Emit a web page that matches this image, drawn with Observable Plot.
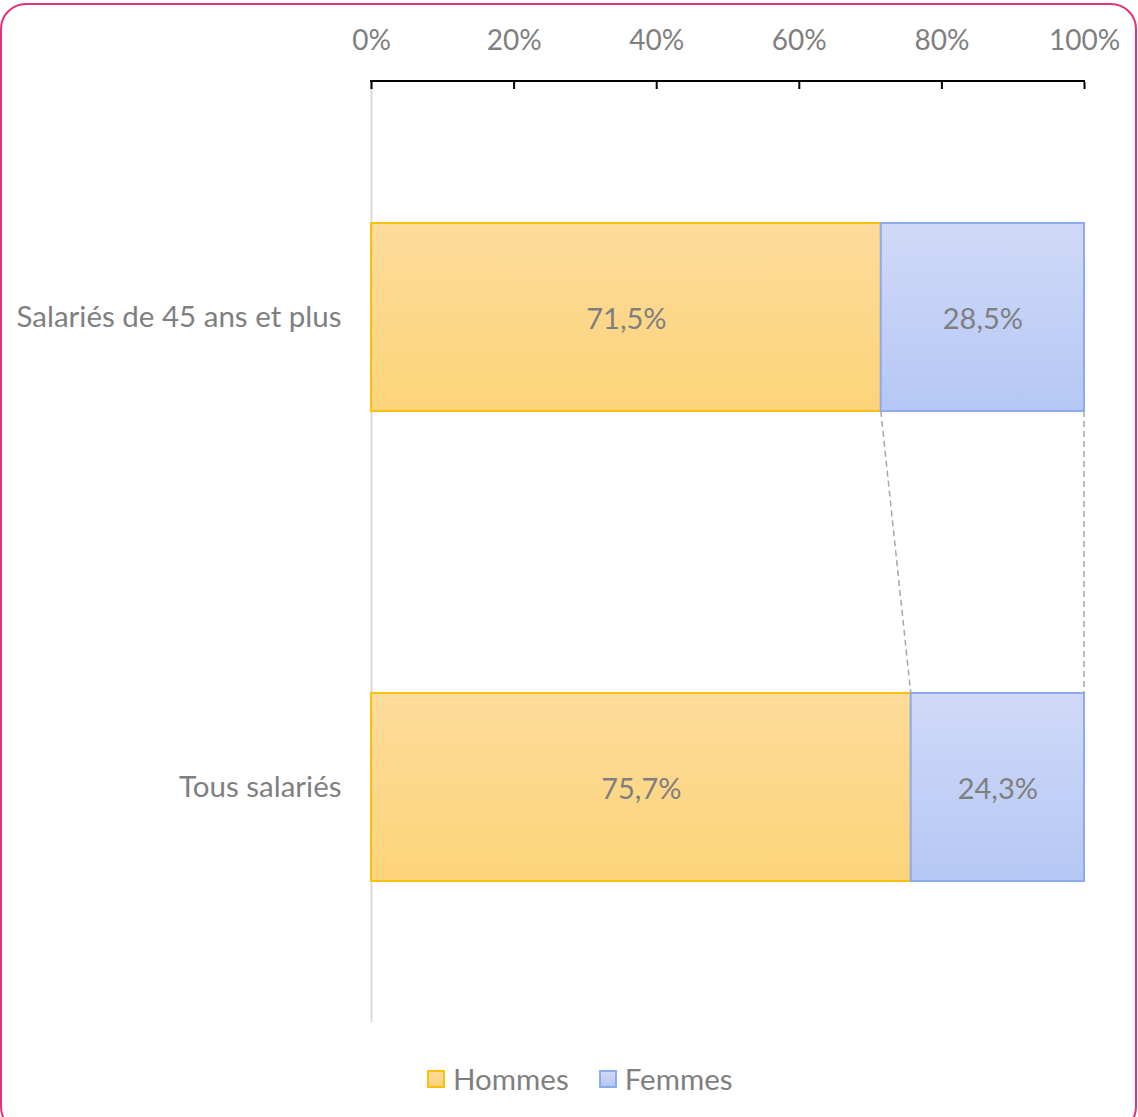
<!DOCTYPE html>
<html>
<head>
<meta charset="utf-8">
<script src="https://cdn.jsdelivr.net/npm/d3@7"></script>
<script src="https://cdn.jsdelivr.net/npm/@observablehq/plot@0.6"></script>
<style>
  html, body { margin: 0; padding: 0; background: #fff; }
  body { width: 1138px; height: 1117px; position: relative; overflow: hidden; font-family: Lato, "Open Sans", sans-serif; }
  #frame { position: absolute; left: 0px; top: 3px; width: 1137px; height: 1130px; box-sizing: border-box;
           border: 2px solid #e5307a; border-radius: 26px; }
  #chart { position: absolute; left: 0; top: 0; }
  #legend { position: absolute; top: 1061px; left: 427px; display: flex; align-items: center; font-size: 29.5px; color: #7f7f7f; }
  .sw { width: 14px; height: 14px; border: 2px solid; margin-right: 8px; }
  .item { display: flex; align-items: center; margin-right: 30px; }
</style>
</head>
<body>
<div id="frame"></div>
<div id="chart"></div>
<div id="legend"></div>
<script>
const categories = ["Salariés de 45 ans et plus", "Tous salariés"];
const hommes = [71.5, 75.7];
const femmes = [28.5, 24.3];
const series = ["Hommes", "Femmes"];
const xTicks = [0, 20, 40, 60, 80, 100];

const fills = { Hommes: "url(#gradH)", Femmes: "url(#gradF)" };
const strokes = { Hommes: "#fbbf12", Femmes: "#8eaaee" };

const rows = [];
categories.forEach((c, i) => {
  rows.push({ cat: c, series: "Hommes", value: hommes[i], x1: 0, x2: hommes[i] });
  rows.push({ cat: c, series: "Femmes", value: femmes[i], x1: hommes[i], x2: hommes[i] + femmes[i] });
});
const fmt = v => v.toFixed(1).replace(".", ",") + "%";

// dashed connectors between the two bars, at each segment boundary
function connectors(index, scales) {
  const x = scales.x, y = scales.y;
  const bw = y.bandwidth();
  const g = d3.create("svg:g");
  const bounds = [[hommes[0], hommes[1]], [hommes[0] + femmes[0], hommes[1] + femmes[1]]];
  for (const [a, b] of bounds) {
    g.append("line")
      .attr("x1", x(a)).attr("y1", y(categories[0]) + bw)
      .attr("x2", x(b)).attr("y2", y(categories[1]))
      .attr("stroke", "#a6a6a6").attr("stroke-width", 1.5).attr("stroke-dasharray", "6,4");
  }
  return g.node();
}

// top axis domain line
function topLine(index, scales, values, dims) {
  const x = scales.x;
  return d3.create("svg:line")
    .attr("x1", x(xTicks[0]) - 1).attr("x2", x(xTicks[xTicks.length - 1]) + 1)
    .attr("y1", dims.marginTop).attr("y2", dims.marginTop)
    .attr("stroke", "#000").attr("stroke-width", 2).node();
}

const chart = Plot.plot({
  width: 1138,
  height: 1040,
  marginTop: 81,
  marginLeft: 371,
  marginRight: 54,
  marginBottom: 18,
  style: { fontFamily: "Lato, 'Open Sans', sans-serif", color: "#7f7f7f", background: "transparent" },
  x: { domain: [0, 100], axis: null },
  y: { domain: categories, paddingInner: 0.6, paddingOuter: 0.3, axis: null },
  marks: [
    Plot.ruleX([0], { stroke: "#d9d9d9", strokeWidth: 2 }),
    Plot.barX(rows.filter(d => d.series === "Hommes"), { y: "cat", x1: "x1", x2: "x2", fill: fills.Hommes, stroke: strokes.Hommes, strokeWidth: 2 }),
    Plot.barX(rows.filter(d => d.series === "Femmes"), { y: "cat", x1: "x1", x2: "x2", fill: fills.Femmes, stroke: strokes.Femmes, strokeWidth: 2 }),
    Plot.text(rows, { y: "cat", x: d => (d.x1 + d.x2) / 2, text: d => fmt(d.value), fill: "#7f7f7f", fontSize: 29, dy: 2 }),
    connectors,
    Plot.axisX({ anchor: "top", ticks: xTicks, tickFormat: d => d + "%", tickSize: -7, tickPadding: 39, stroke: "#000", strokeWidth: 2, fill: "#7f7f7f", fontSize: 28 }),
    topLine,
    Plot.axisY({ tickSize: 0, tickPadding: 30, fill: "#7f7f7f", fontSize: 29.5, label: null })
  ]
});

// gradient definitions
const defs = d3.select(chart).insert("defs", ":first-child");
const gH = defs.append("linearGradient").attr("id", "gradH").attr("x1", 0).attr("y1", 0).attr("x2", 0).attr("y2", 1);
gH.append("stop").attr("offset", "0%").attr("stop-color", "#fddb9a");
gH.append("stop").attr("offset", "100%").attr("stop-color", "#fdd47a");
const gF = defs.append("linearGradient").attr("id", "gradF").attr("x1", 0).attr("y1", 0).attr("x2", 0).attr("y2", 1);
gF.append("stop").attr("offset", "0%").attr("stop-color", "#d0daf7");
gF.append("stop").attr("offset", "100%").attr("stop-color", "#b5c7f5");

document.getElementById("chart").appendChild(chart);

const legend = d3.select("#legend");
const legFill = { Hommes: "linear-gradient(#fddb9a,#fdd47a)", Femmes: "linear-gradient(#d0daf7,#b5c7f5)" };
series.forEach(s => {
  const it = legend.append("div").attr("class", "item");
  it.append("div").attr("class", "sw").style("background", legFill[s]).style("border-color", strokes[s]);
  it.append("span").text(s);
});
</script>
</body>
</html>
